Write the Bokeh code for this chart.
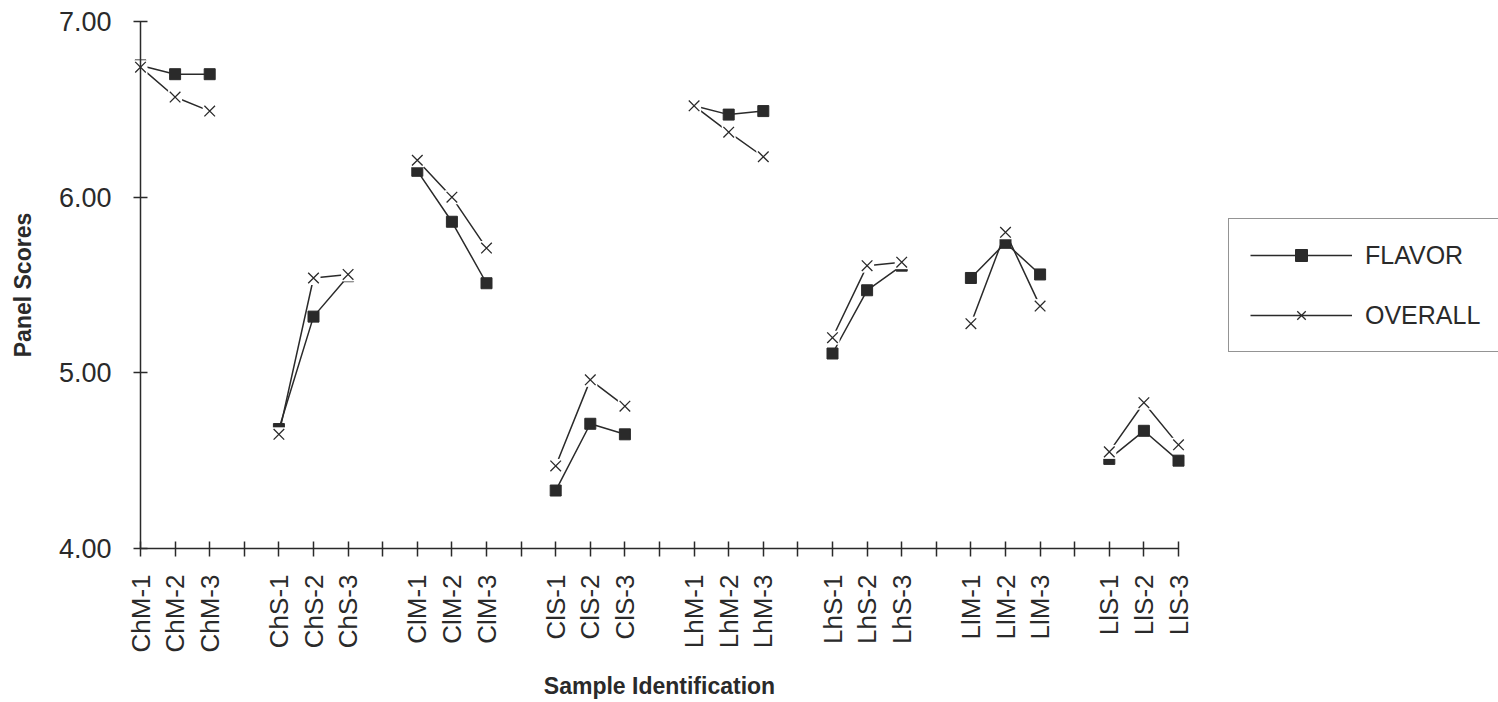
import math
import numpy as np
from bokeh.plotting import figure
from bokeh.models import Range1d, FixedTicker, Legend, LegendItem, NumeralTickFormatter
from bokeh.embed import file_html
from bokeh.resources import INLINE

# ---- data ----
samples = ["ChM-1", "ChM-2", "ChM-3", "ChS-1", "ChS-2", "ChS-3",
           "ClM-1", "ClM-2", "ClM-3", "ClS-1", "ClS-2", "ClS-3",
           "LhM-1", "LhM-2", "LhM-3", "LhS-1", "LhS-2", "LhS-3",
           "LlM-1", "LlM-2", "LlM-3", "LlS-1", "LlS-2", "LlS-3"]
flavor = [6.75, 6.70, 6.70, 4.68, 5.32, 5.55,
          6.15, 5.86, 5.51, 4.33, 4.71, 4.65,
          6.52, 6.47, 6.49, 5.11, 5.47, 5.61,
          5.54, 5.74, 5.56, 4.51, 4.67, 4.50]
overall = [6.74, 6.57, 6.49, 4.65, 5.54, 5.56,
           6.21, 6.00, 5.71, 4.47, 4.96, 4.81,
           6.52, 6.37, 6.23, 5.20, 5.61, 5.63,
           5.28, 5.80, 5.38, 4.55, 4.83, 4.59]
series_names = ["FLAVOR", "OVERALL"]
y_ticks = [4.0, 5.0, 6.0, 7.0]
x_title = "Sample Identification"
y_title = "Panel Scores"

# ---- slot layout: groups of 3 with an empty slot between groups ----
positions = [4 * (k // 3) + k % 3 for k in range(len(samples))]
n_slots = positions[-1] + 1
slots = np.arange(n_slots)
fl = np.full(n_slots, np.nan)
ov = np.full(n_slots, np.nan)
fl[positions] = flavor
ov[positions] = overall

INK = "#2a2a2a"
FONT = "Liberation Sans"
W, H = 1498, 702

# pixel geometry of the axes inside the full-canvas frame
ax_left, ax_right = 140, 1178      # x of first / last slot
ax_top, ax_bottom = 21, 548        # y of top / bottom y tick
xs = (ax_right - ax_left) / (n_slots - 1)
ys = (ax_bottom - ax_top) / (y_ticks[-1] - y_ticks[0])
x_range = Range1d(0 - ax_left / xs, (n_slots - 1) + (W - ax_right) / xs)
y_range = Range1d(y_ticks[0] - (H - ax_bottom) / ys, y_ticks[-1] + ax_top / ys)

p = figure(width=W, height=H, x_range=x_range, y_range=y_range,
           output_backend="svg", toolbar_location=None,
           min_border_left=0, min_border_right=0,
           min_border_top=0, min_border_bottom=0)
p.grid.visible = False
p.outline_line_color = None
p.background_fill_color = "white"
p.border_fill_color = "white"

lf = p.line(slots, fl, line_color=INK, line_width=1.5)
mf = p.scatter(slots, fl, marker="square", size=11, fill_color=INK, line_color=INK)
lo = p.line(slots, ov, line_color=INK, line_width=1.5)
# the original plotter blanks the area behind each X marker
p.scatter(slots, ov, marker="square", size=14, fill_color="white", line_color=None)
mo = p.scatter(slots, ov, marker="x", size=15, line_color=INK, line_width=1.3)

# y axis (at the first sample slot)
ya = p.yaxis[0]
ya.fixed_location = 0
ya.bounds = (y_ticks[0], y_ticks[-1])
ya.ticker = FixedTicker(ticks=y_ticks)
ya.formatter = NumeralTickFormatter(format="0.00")
ya.major_label_text_font = FONT
ya.major_label_text_font_size = "27px"
ya.major_label_text_color = INK
ya.major_label_standoff = 22
ya.major_tick_in = 7
ya.major_tick_out = 7
ya.minor_tick_line_color = None
ya.axis_line_color = INK
ya.axis_line_width = 1.5
ya.major_tick_line_color = INK
ya.major_tick_line_width = 1.5
ya.axis_label = y_title
ya.axis_label_text_font = FONT
ya.axis_label_text_font_style = "bold"
ya.axis_label_text_font_size = "23px"
ya.axis_label_text_color = INK
ya.axis_label_standoff = 20

# x axis (at the bottom y tick)
xa = p.xaxis[0]
xa.fixed_location = y_ticks[0]
xa.ticker = FixedTicker(ticks=list(range(n_slots)))
overrides = {int(s): "" for s in slots}
for pos, name in zip(positions, samples):
    overrides[pos] = name
xa.major_label_overrides = overrides
xa.major_label_orientation = math.pi / 2
xa.bounds = (0, n_slots - 1)
xa.major_label_text_font = FONT
xa.major_label_text_font_size = "26px"
xa.major_label_text_color = INK
xa.major_label_standoff = 18
xa.major_tick_in = 7
xa.major_tick_out = 8
xa.minor_tick_line_color = None
xa.axis_line_color = INK
xa.axis_line_width = 1.5
xa.major_tick_line_color = INK
xa.major_tick_line_width = 1.5
xa.axis_label = x_title
xa.axis_label_text_font = FONT
xa.axis_label_text_font_style = "bold"
xa.axis_label_text_font_size = "23px"
xa.axis_label_text_color = INK
xa.axis_label_standoff = 17

legend = Legend(items=[LegendItem(label=series_names[0], renderers=[lf, mf]),
                       LegendItem(label=series_names[1], renderers=[lo, mo])],
                location=(1228, H - 352))
legend.border_line_color = INK
legend.border_line_width = 1.2
legend.label_text_font = FONT
legend.label_text_font_size = "25px"
legend.label_text_color = INK
legend.glyph_width = 102
legend.glyph_height = 30
legend.label_standoff = 13
legend.label_width = 150
legend.padding = 21
legend.spacing = 30
legend.margin = 0
legend.background_fill_color = "white"
legend.background_fill_alpha = 1
p.add_layout(legend)

open("out.html", "w").write(file_html(p, INLINE))
